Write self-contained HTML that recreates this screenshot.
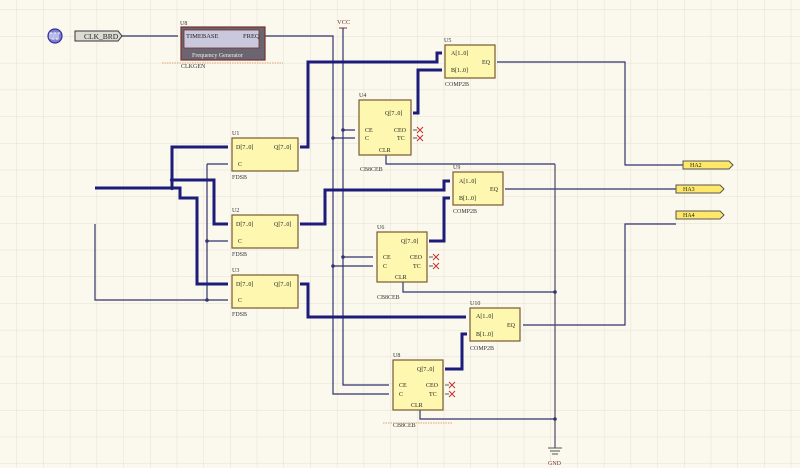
<!DOCTYPE html>
<html><head><meta charset="utf-8"><style>
html,body{margin:0;padding:0;background:#fbf9ee;}
svg{display:block;font-family:"Liberation Serif",serif;}
</style></head><body>
<svg width="800" height="468" viewBox="0 0 800 468" xmlns="http://www.w3.org/2000/svg">
<defs>
<pattern id="g" width="26.7" height="26.7" patternUnits="userSpaceOnUse" x="17" y="10">
<path d="M26.7 0V26.7M0 26.7H26.7" stroke="#e4e1d2" stroke-width="1" fill="none"/>
</pattern>
</defs>
<rect width="800" height="468" fill="#fbf9ee"/>
<rect width="800" height="468" fill="url(#g)"/>

<!-- thin wires -->
<g stroke="#33336e" stroke-width="1.2" fill="none">
<path d="M122 36H178"/>
<path d="M265 36H333V394H389"/>
<path d="M343 28V385H389"/>
<path d="M343 130H355M333 138H355"/>
<path d="M343 257H373M333 266H373"/>
<path d="M497 62H625V165H683"/>
<path d="M505 189H676"/>
<path d="M523 325H625V224H676"/>
<path d="M95 224V300H228"/>
<path d="M207 164V300M207 164H228M207 241H228"/>
<path d="M386 155V164H555"/>
<path d="M403 282V292H555"/>
<path d="M420 410V419H555"/>
<path d="M555 164V448" stroke="#4a4a6a"/>
</g>
<g fill="#33336e">
<circle cx="333" cy="138" r="1.8"/><circle cx="343" cy="130" r="1.8"/>
<circle cx="333" cy="266" r="1.8"/><circle cx="343" cy="257" r="1.8"/>
<circle cx="207" cy="241" r="1.8"/><circle cx="207" cy="300" r="1.8"/>
<circle cx="555" cy="292" r="1.8"/><circle cx="555" cy="419" r="1.8"/>
<circle cx="172" cy="180" r="2.2"/><circle cx="172" cy="188" r="2.2"/>
</g>

<!-- buses -->
<g stroke="#1c1c7a" stroke-width="3" fill="none" stroke-linejoin="miter">
<path d="M95 188H180V198H197V284H228"/>
<path d="M172 188V147H228"/>
<path d="M172 180H214V224H228"/>
<path d="M300 147H308V62H437V53H442"/>
<path d="M413 113H418V70H442"/>
<path d="M300 224H325V190H444V181H450"/>
<path d="M429 241H444V198H450"/>
<path d="M300 284H308V317H466"/>
<path d="M445 369H462V334H467"/>
</g>

<!-- clock icon -->
<circle cx="55" cy="36" r="7" fill="#8080d0" stroke="#3030a0" stroke-width="1.2"/>
<path d="M50 39V33H52V39H54V33H56V39H58V33H60" stroke="#fff" stroke-width="0.9" fill="none"/>
<!-- CLK_BRD port -->
<path d="M75 31H118L122 36L118 41H75Z" fill="#dcdcd4" stroke="#333" stroke-width="1"/>
<text x="84" y="39" font-size="7.5" fill="#222">CLK_BRD</text>

<!-- U8 clkgen -->
<rect x="181" y="27" width="84" height="33" fill="#6a6570" stroke="#7a3030" stroke-width="1.2"/>
<rect x="184" y="30" width="75" height="18" fill="#c9c8dc" stroke="#7a3030" stroke-width="0.8"/>
<text x="186" y="38" font-size="6.5" fill="#222">TIMEBASE</text>
<text x="243" y="38" font-size="6.5" fill="#222">FREQ</text>
<text x="192" y="57" font-size="6" fill="#eee">Frequency Generator</text>
<text x="180" y="25" font-size="6" fill="#333">U8</text>
<text x="181" y="68" font-size="6" fill="#333">CLKGEN</text>
<path d="M162 63H283" stroke="#e0a070" stroke-width="1" stroke-dasharray="1.5,1"/>
<text x="337" y="24" font-size="6.5" fill="#7a3030">VCC</text>
<path d="M339 28H347" stroke="#7a3030"/>

<!-- generic block style -->
<g fill="#fdf7b0" stroke="#7a5a30" stroke-width="1.2">
<rect x="232" y="138" width="66" height="33"/>
<rect x="232" y="215" width="66" height="33"/>
<rect x="232" y="275" width="66" height="33"/>
<rect x="359" y="100" width="52" height="55"/>
<rect x="377" y="232" width="50" height="50"/>
<rect x="393" y="360" width="50" height="50"/>
<rect x="445" y="45" width="50" height="33"/>
<rect x="453" y="172" width="50" height="33"/>
<rect x="470" y="308" width="50" height="33"/>
</g>

<g font-size="6" fill="#222">
<!-- FDSB -->
<text x="236" y="149">D[7..0]</text><text x="274" y="149">Q[7..0]</text><text x="238" y="166">C</text>
<text x="232" y="135" fill="#333">U1</text><text x="232" y="179" fill="#333">FDSB</text>
<text x="236" y="226">D[7..0]</text><text x="274" y="226">Q[7..0]</text><text x="238" y="243">C</text>
<text x="232" y="212" fill="#333">U2</text><text x="232" y="256" fill="#333">FDSB</text>
<text x="236" y="286">D[7..0]</text><text x="274" y="286">Q[7..0]</text><text x="238" y="302">C</text>
<text x="232" y="272" fill="#333">U3</text><text x="232" y="316" fill="#333">FDSB</text>
<!-- CB8CEB -->
<text x="385" y="115">Q[7..0]</text><text x="365" y="132">CE</text><text x="365" y="140">C</text>
<text x="394" y="132">CEO</text><text x="397" y="140">TC</text><text x="379" y="152">CLR</text>
<text x="359" y="97" fill="#333">U4</text><text x="360" y="171" fill="#333">CB8CEB</text>
<text x="401" y="243">Q[7..0]</text><text x="383" y="259">CE</text><text x="383" y="268">C</text>
<text x="410" y="259">CEO</text><text x="413" y="268">TC</text><text x="395" y="279">CLR</text>
<text x="377" y="229" fill="#333">U6</text><text x="377" y="299" fill="#333">CB8CEB</text>
<text x="417" y="371">Q[7..0]</text><text x="399" y="387">CE</text><text x="399" y="396">C</text>
<text x="426" y="387">CEO</text><text x="429" y="396">TC</text><text x="411" y="407">CLR</text>
<text x="393" y="357" fill="#333">U8</text><text x="393" y="427" fill="#333">CB8CEB</text>
<!-- COMP2B -->
<text x="451" y="55">A[1..0]</text><text x="451" y="72">B[1..0]</text><text x="482" y="64">EQ</text>
<text x="444" y="42" fill="#333">U5</text><text x="445" y="86" fill="#333">COMP2B</text>
<text x="459" y="183">A[1..0]</text><text x="459" y="200">B[1..0]</text><text x="490" y="191">EQ</text>
<text x="453" y="169" fill="#333">U9</text><text x="453" y="213" fill="#333">COMP2B</text>
<text x="476" y="318">A[1..0]</text><text x="476" y="336">B[1..0]</text><text x="507" y="327">EQ</text>
<text x="470" y="305" fill="#333">U10</text><text x="470" y="350" fill="#333">COMP2B</text>
</g>
<path d="M383 423H453" stroke="#e0a070" stroke-width="1" stroke-dasharray="1.5,1"/>

<!-- pin stubs -->
<g stroke="#222" stroke-width="0.8" fill="none">
<path d="M413 130l4 0M413 138l4 0M429 257l4 0M429 266l4 0M445 385l4 0M445 394l4 0"/>
</g>
<g stroke="#c03030" stroke-width="1" fill="none">
<path d="M417 127l6 6M423 127l-6 6M417 135l6 6M423 135l-6 6"/>
<path d="M433 254l6 6M439 254l-6 6M433 263l6 6M439 263l-6 6"/>
<path d="M449 382l6 6M455 382l-6 6M449 391l6 6M455 391l-6 6"/>
</g>

<!-- output ports -->
<g fill="#fde86a" stroke="#555" stroke-width="1">
<path d="M683 161H729L733 165L729 169H683Z"/>
<path d="M676 185H720L724 189L720 193H676Z"/>
<path d="M676 211H720L724 215L720 219H676Z"/>
</g>
<g font-size="6" fill="#222">
<text x="690" y="167">HA2</text><text x="683" y="191">HA3</text><text x="683" y="217">HA4</text>
</g>

<!-- GND -->
<g stroke="#555" stroke-width="1">
<path d="M548 448H562M550 451H560M552 454H558"/>
</g>
<text x="548" y="465" font-size="6" fill="#7a3030">GND</text>
</svg>
</body></html>
